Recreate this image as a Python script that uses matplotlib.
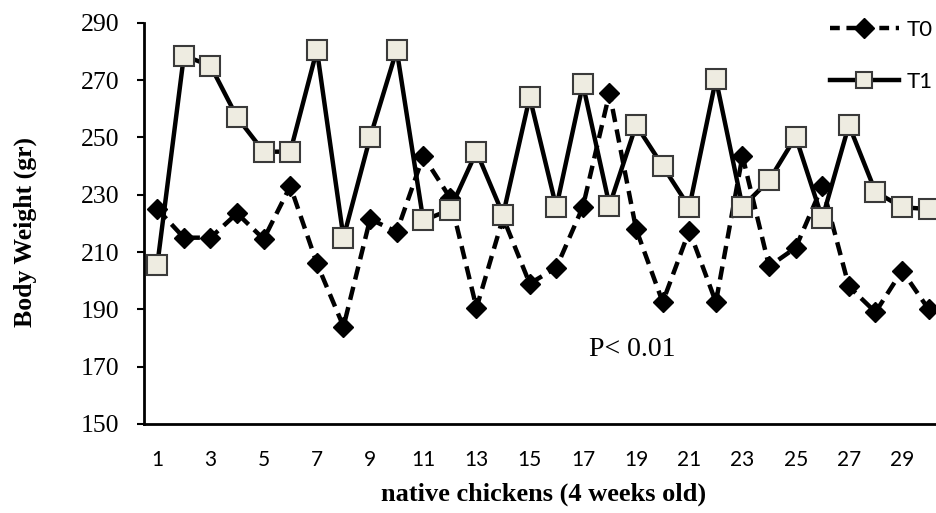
import matplotlib
matplotlib.use("Agg")
import matplotlib.pyplot as plt
from matplotlib.lines import Line2D

chickens = list(range(1, 31))
t0 = [225, 215, 215, 223.5, 214.5, 233, 206, 184, 221.5, 217,
      243.5, 229, 190.5, 222, 199, 204.5, 225.8, 265.5, 218, 192.5,
      217.5, 192.5, 243.5, 205, 211.5, 233, 198, 189, 203.5, 190]
t1 = [205.5, 278.5, 275, 257, 245, 245, 280.5, 215, 250, 280.5,
      221, 224.7, 245, 223, 264, 225.6, 268.5, 226.2, 254.3, 240,
      225.6, 270.3, 225.8, 235, 250.2, 221.7, 254.3, 231, 225.6, 225]
yticks = list(range(150, 291, 20))
xticks = list(range(1, 31, 2))
xticklabels = [str(v) for v in xticks]

fig = plt.figure(figsize=(9.37, 5.13), dpi=100)
ax = fig.add_axes([144/937, (513-424)/513, (942-144)/937, (424-22.7)/513])

ax.plot(chickens, t0, color='black', lw=3.2, ls=(0, (3, 1.7)),
        marker='D', markersize=10.5, markerfacecolor='black', markeredgecolor='black',
        zorder=2, clip_on=False)
ax.plot(chickens, t1, color='black', lw=3.2, ls='-',
        marker='s', markersize=14, markerfacecolor='#EEECE1', markeredgecolor='#3A3A3A',
        markeredgewidth=1.5, zorder=3, clip_on=False)

ax.set_xlim(0.5, 30.5)
ax.set_ylim(150, 290)
ax.set_yticks(yticks)
ax.set_yticklabels([str(v) for v in yticks], fontfamily='Liberation Serif', fontsize=18.5)
ax.set_xticks(xticks)
ax.set_xticklabels(xticklabels, fontfamily='Lato', fontsize=15)
ax.tick_params(axis='x', length=0, pad=19)
ax.tick_params(axis='y', direction='out', length=5, width=1.5, pad=13)
for s in ['top', 'right']:
    ax.spines[s].set_visible(False)
for s in ['left', 'bottom']:
    ax.spines[s].set_linewidth(2)

ax.set_xlabel('native chickens (4 weeks old)', fontfamily='Liberation Serif',
              fontweight='bold', fontsize=19)
ax.xaxis.set_label_coords(0.501, -0.145)
ax.set_ylabel('Body Weight (gr)', fontfamily='Liberation Serif',
              fontweight='bold', fontsize=18.5)
ax.yaxis.set_label_coords(-0.134, 0.478)

fig.text(632/937, 1 - 350/513, 'P< 0.01',
         fontfamily='Liberation Serif', fontsize=20, ha='center', va='center')

h0 = Line2D([], [], color='black', lw=3.2, ls=(0, (2.2, 1.5)), marker='D', markersize=10.5,
            markerfacecolor='black', markeredgecolor='black')
h1 = Line2D([], [], color='black', lw=3.2, ls='-', marker='s', markersize=12,
            markerfacecolor='#EEECE1', markeredgecolor='#3A3A3A', markeredgewidth=1.5)
leg = fig.legend([h0, h1], ['T0', 'T1'], loc='upper left',
                 bbox_to_anchor=(830/937, 1 - 20/513), frameon=False,
                 prop={'family': 'Lato', 'size': 16}, handlelength=3.1,
                 labelspacing=1.45, handletextpad=0.35, borderaxespad=0,
                 borderpad=0)

fig.savefig('out.png', dpi=100)
